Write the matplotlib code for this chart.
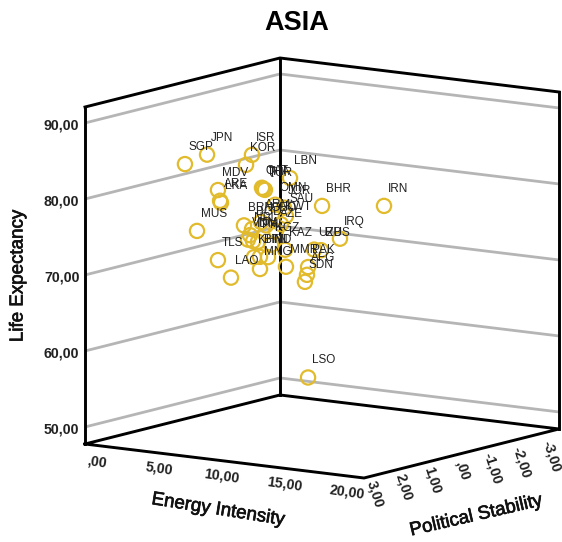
import matplotlib
matplotlib.use('Agg')
import matplotlib.pyplot as plt
import matplotlib.patheffects as pe
import numpy as np

plt.rcParams['font.family'] = ['Liberation Sans', 'DejaVu Sans']

# data
codes = ['SGP','JPN','ISR','KOR','MDV','ARE','LKA','MUS','TLS','LAO','LBN','TUR','THA','QAT','OMN','JOR',
         'SAU','KWT','BHR','IRN','IRQ','LSO','BRN','BGD','AZE','ARM','GEO','IDN','PHL','KGZ','KAZ','KHM',
         'BTN','IND','MNG','MMR','PAK','AFG','SDN','UZB','RUS','VNM','NPL']
energy = [3.67,4.09,2.65,5.02,3.24,4.09,2.76,3.37,2.54,4.64,3.98,3.58,3.91,7.56,7.80,5.88,
          6.25,7.29,8.84,10.95,5.93,9.00,7.20,2.89,5.30,5.63,5.05,3.66,2.85,4.95,7.58,4.89,
          6.72,3.80,6.72,4.62,3.41,3.10,4.35,7.80,8.53,5.16,3.67]
stability = [1.5,1.0,-1.0,0.2,0.3,0.6,0.0,1.0,0.0,0.5,-1.6,-1.0,-0.8,0.8,0.5,-0.6,
             -0.5,0.1,-0.5,-1.5,-2.3,0.0,1.2,-0.9,-0.6,0.0,-0.4,-0.6,-1.1,-0.6,0.1,-0.1,
             0.5,-1.0,0.5,-1.2,-2.4,-2.5,-1.9,-0.7,-0.6,0.2,-0.5]
life = [83.8,84.6,82.1,82.6,79.0,78.1,76.9,74.4,69.3,68.0,78.7,77.7,78.1,80.8,78.3,76.3,
        75.4,75.2,77.3,76.7,70.4,55.3,76.2,72.5,73.1,75.0,74.0,71.4,70.6,71.2,71.9,70.1,
        71.2,68.9,69.6,67.6,66.0,64.8,64.8,71.1,71.3,72.8,72.3]

x_ticks = [0, 5, 10, 15, 20]
x_tick_labels = [',00', '5,00', '10,00', '15,00', '20,00']
s_ticks = [3, 2, 1, 0, -1, -2, -3]
s_tick_labels = ['3,00', '2,00', '1,00', ',00', '-1,00', '-2,00', '-3,00']
y_ticks = [50, 60, 70, 80, 90]
y_tick_labels = ['50,00', '60,00', '70,00', '80,00', '90,00']

L_MIN = 47.76
L_MAX = 92.1


# oblique projection of the box onto the picture
def project(e, s, l):
    e = np.asarray(e, dtype=float)
    s = np.asarray(s, dtype=float)
    l = np.asarray(l, dtype=float)
    u = 3 - s
    px = 85 + 13.95 * e + 32.5 * u
    py = 444 + 1.7 * e - 8.17 * u - (l - L_MIN) * 7.6
    return px, py


fig = plt.figure(figsize=(5.62, 5.42), dpi=100)
ax = fig.add_axes([0, 0, 1, 1])
ax.set_xlim(0, 562)
ax.set_ylim(542, 0)
ax.axis('off')

# grid on the two back walls
for l in y_ticks:
    px, py = project([0, 0, 20], [3, -3, -3], [l, l, l])
    ax.plot(px, py, color='#b5b5b5', lw=2.0, zorder=1, solid_capstyle='butt')

# box frame
frame = dict(color='black', lw=2.1, zorder=2, solid_joinstyle='miter')
px, py = project([0, 20, 20, 0, 0], [3, 3, -3, -3, 3], [L_MIN] * 5)
ax.plot(px, py, **frame)
px, py = project([0, 0, 20], [3, -3, -3], [L_MAX] * 3)
ax.plot(px, py, **frame)
for e, s in [(0, 3), (0, -3), (20, -3)]:
    px, py = project([e, e], [s, s], [L_MIN, L_MAX])
    ax.plot(px, py, **frame)

# points
px, py = project(energy, stability, life)
ax.scatter(px, py, s=105, facecolors='none', edgecolors='#e2bb2c', linewidths=1.6, zorder=3)
for code, a, b in zip(codes, px, py):
    ax.text(a + 4, b - 17, code, fontsize=8.5, color='#222222', ha='left', va='center', zorder=4)

# tick labels
for l, lab in zip(y_ticks, y_tick_labels):
    a, b = project(0, 3, l)
    ax.text(a - 5.5, b + 3, lab, fontsize=10.2, fontweight='bold', color='#222222', ha='right', va='center')

x_off = [(12, 18), (4, 15.5), (-2.5, 15), (-10, 14.5), (-17, 14)]
for e, lab, off in zip(x_ticks, x_tick_labels, x_off):
    a, b = project(e, 3, L_MIN)
    ax.text(a + off[0], b + off[1], lab, fontsize=10.2, fontweight='bold', color='#222222',
            ha='center', va='center', rotation=-8, rotation_mode='anchor')

s_off = [(11, 16), (7.5, 17), (4, 18), (0.5, 16.5), (-1, 22.7), (-4.5, 25), (-7.5, 27)]
for s, lab, off in zip(s_ticks, s_tick_labels, s_off):
    a, b = project(20, s, L_MIN)
    ax.text(a + off[0], b + off[1], lab, fontsize=10.2, fontweight='bold', color='#222222',
            ha='center', va='center', rotation=-72, rotation_mode='anchor')

# titles
heavy = [pe.withStroke(linewidth=0.5, foreground='#111111')]
ax.text(297, 23, 'ASIA', fontsize=19.5, fontweight='bold', ha='center', va='center')
ax.text(18, 276, 'Life Expectancy', fontsize=13.5, color='#111111', ha='center', va='center', rotation=90,
        path_effects=heavy)
ax.text(218, 510, 'Energy Intensity', fontsize=13.5, color='#111111', ha='center', va='center',
        rotation=-9, rotation_mode='anchor', path_effects=heavy)
ax.text(476, 516, 'Political Stability', fontsize=13.5, color='#111111', ha='center', va='center',
        rotation=13, rotation_mode='anchor', path_effects=heavy)

fig.savefig('out.png', dpi=100)
